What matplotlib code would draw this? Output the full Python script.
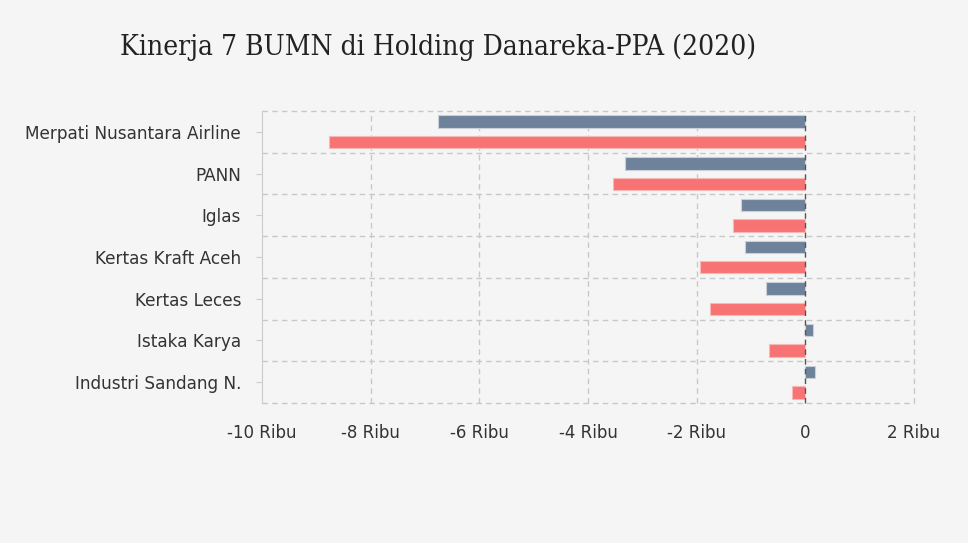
import matplotlib
matplotlib.use("Agg")
import matplotlib.pyplot as plt
import numpy as np

categories = ["Merpati Nusantara Airline", "PANN", "Iglas", "Kertas Kraft Aceh",
              "Kertas Leces", "Istaka Karya", "Industri Sandang N."]
series_a = [-6755, -3313, -1178, -1104, -718, 147, 184]     # blue-gray
series_b = [-8760, -3534, -1325, -1933, -1749, -663, -240]  # red
xticks = [-10000, -8000, -6000, -4000, -2000, 0, 2000]
xtick_labels = ["-10 Ribu", "-8 Ribu", "-6 Ribu", "-4 Ribu", "-2 Ribu", "0", "2 Ribu"]

bg = "#f5f5f5"
fig = plt.figure(figsize=(9.68, 5.43), dpi=100, facecolor=bg)
ax = fig.add_axes([262/968, 1-403/543, (914-262)/968, (403-111)/543])
ax.set_facecolor(bg)

n = len(categories)
y = np.arange(n)
h = 0.30
off = 0.245
ax.barh(y - off, series_a, height=h, color="#6e829b", edgecolor="#c9d0da", linewidth=0.8, zorder=3)
ax.barh(y + off, series_b, height=h, color="#f87373", edgecolor="#f7b8b8", linewidth=0.8, zorder=3)

ax.set_xlim(-10000, 2000)
ax.set_ylim(n - 0.5, -0.5)
ax.set_xticks(xticks)
ax.set_xticklabels(xtick_labels, fontsize=12, color="#333333", family="DejaVu Sans")
ax.set_yticks(y)
ax.set_yticklabels(categories, fontsize=12.2, color="#333333", family="DejaVu Sans")
ax.tick_params(axis="x", length=0, pad=15)
ax.tick_params(axis="y", length=4.5, color="#cccccc", pad=10.5)

grid_kw = dict(color="#c8c8c8", linestyle=(0, (4, 3)), linewidth=1, zorder=1, clip_on=False)
for xv in xticks:
    if xv == 0:
        ax.axvline(xv, color="#555555", linestyle=(0, (4, 3)), linewidth=1, zorder=4, clip_on=False)
    elif xv == -10000:
        continue
    else:
        ax.axvline(xv, **grid_kw)
for yb in np.arange(-0.5, n, 1.0):
    ax.axhline(yb, **grid_kw)

for s in ["top", "right", "bottom"]:
    ax.spines[s].set_visible(False)
ax.spines["left"].set_color("#cccccc")

fig.text(438/968, 1-47/543, "Kinerja 7 BUMN di Holding Danareka-PPA (2020)",
         ha="center", va="center", fontsize=20.2, family="DejaVu Serif",
         stretch="condensed", color="#222222")

fig.savefig("out.png", dpi=100, facecolor=bg)
